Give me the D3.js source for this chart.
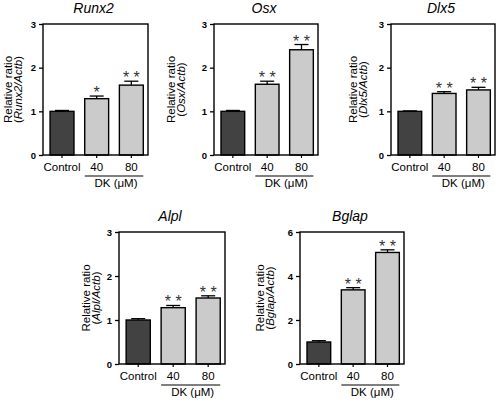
<!DOCTYPE html>
<html>
<head>
<meta charset="utf-8">
<script src="https://cdn.jsdelivr.net/npm/d3@7"></script>
<style>
  html, body { margin: 0; padding: 0; background: #fff; }
  svg { display: block; }
  text { font-family: "Liberation Sans", Arial, sans-serif; fill: #000; }
</style>
</head>
<body>
<script>
// ---- data ----
const categories = ["Control", "40", "80"];
const genes = ["Runx2", "Osx", "Dlx5", "Alpl", "Bglap"];

const runx2Mean = [1.00, 1.29, 1.60];
const runx2Err  = [0.02, 0.06, 0.09];
const runx2Sig  = ["", "*", "**"];

const osxMean = [1.00, 1.62, 2.41];
const osxErr  = [0.02, 0.07, 0.12];
const osxSig  = ["", "**", "**"];

const dlx5Mean = [1.00, 1.41, 1.49];
const dlx5Err  = [0.01, 0.04, 0.06];
const dlx5Sig  = ["", "**", "**"];

const alplMean = [1.00, 1.28, 1.50];
const alplErr  = [0.03, 0.05, 0.05];
const alplSig  = ["", "**", "**"];

const bglapMean = [1.00, 3.37, 5.07];
const bglapErr  = [0.06, 0.10, 0.12];
const bglapSig  = ["", "**", "**"];

const yTicks3 = [0, 1, 2, 3];
const yTicks6 = [0, 2, 4, 6];
const yMax3 = 3;
const yMax6 = 6;
const groupLabel = "DK (\u03BCM)";

// ---- layout (separate from data) ----
const panels = [
  { gene: genes[0], mean: runx2Mean, err: runx2Err, sig: runx2Sig, ticks: yTicks3, max: yMax3, x0: 43,  x1: 148, y0: 24,  y1: 155, lab: [-35, -25] },
  { gene: genes[1], mean: osxMean,   err: osxErr,   sig: osxSig,   ticks: yTicks3, max: yMax3, x0: 214, x1: 318, y0: 24,  y1: 155, lab: [-43, -33] },
  { gene: genes[2], mean: dlx5Mean,  err: dlx5Err,  sig: dlx5Sig,  ticks: yTicks3, max: yMax3, x0: 391, x1: 495, y0: 24,  y1: 155, lab: [-38, -28] },
  { gene: genes[3], mean: alplMean,  err: alplErr,  sig: alplSig,  ticks: yTicks3, max: yMax3, x0: 119, x1: 225, y0: 232, y1: 364, lab: [-33, -23] },
  { gene: genes[4], mean: bglapMean, err: bglapErr, sig: bglapSig, ticks: yTicks6, max: yMax6, x0: 300, x1: 404, y0: 232, y1: 364, lab: [-40, -30] }
];

const W = 500, H = 402;
const svg = d3.select("body").append("svg").attr("width", W).attr("height", H);

panels.forEach(p => {
  const g = svg.append("g");
  const x = d3.scaleBand().domain(categories).range([p.x0, p.x1])
    .paddingInner(0.31).paddingOuter(0.17).align(0.6);
  const y = d3.scaleLinear().domain([0, p.max]).range([p.y1, p.y0]);

  const rows = categories.map((c, i) => ({ c, m: p.mean[i], e: p.err[i], s: p.sig[i], i }));

  // bars
  g.selectAll("rect.bar").data(rows).join("rect")
    .attr("class", "bar")
    .attr("x", d => x(d.c))
    .attr("width", x.bandwidth())
    .attr("y", d => y(d.m))
    .attr("height", d => y(0) - y(d.m))
    .attr("fill", d => d.i === 0 ? "#424242" : "#cbcbcb")
    .attr("stroke", "#000")
    .attr("stroke-width", 1.4);

  // error bars (upward)
  const cx = d => x(d.c) + x.bandwidth() / 2;
  g.selectAll("line.err").data(rows).join("line")
    .attr("class", "err")
    .attr("x1", cx).attr("x2", cx)
    .attr("y1", d => y(d.m)).attr("y2", d => y(d.m + d.e))
    .attr("stroke", "#000").attr("stroke-width", 1.3);
  g.selectAll("line.cap").data(rows).join("line")
    .attr("class", "cap")
    .attr("x1", d => cx(d) - 7).attr("x2", d => cx(d) + 7)
    .attr("y1", d => y(d.m + d.e)).attr("y2", d => y(d.m + d.e))
    .attr("stroke", "#000").attr("stroke-width", 1.3);

  // significance stars
  g.selectAll("text.sig").data(rows.filter(d => d.s)).join("text")
    .attr("class", "sig")
    .attr("x", cx)
    .attr("y", d => y(d.m + d.e) + 2)
    .attr("text-anchor", "middle")
    .attr("font-size", 16)
    .style("fill", "#333")
    .text(d => d.s.split("").join(" "));

  // frame
  g.append("rect")
    .attr("x", p.x0).attr("y", p.y0)
    .attr("width", p.x1 - p.x0).attr("height", p.y1 - p.y0)
    .attr("fill", "none").attr("stroke", "#000").attr("stroke-width", 1.4);

  // y axis
  const ya = g.append("g").attr("transform", `translate(${p.x0},0)`)
    .call(d3.axisLeft(y).tickValues(p.ticks).tickFormat(d3.format("d")).tickSize(4).tickPadding(3));
  ya.select(".domain").remove();
  ya.selectAll("line").attr("stroke", "#000").attr("stroke-width", 1.3);
  ya.selectAll("text").attr("font-size", 9.5).attr("font-weight", "bold")
    .style("font-family", "'Liberation Sans', Arial, sans-serif");

  // x axis
  const xa = g.append("g").attr("transform", `translate(0,${p.y1})`)
    .call(d3.axisBottom(x).tickSize(3).tickPadding(5));
  xa.select(".domain").remove();
  xa.selectAll("line").attr("stroke", "#000").attr("stroke-width", 1.2);
  xa.selectAll("text").attr("font-size", 11.5)
    .style("font-family", "'Liberation Sans', Arial, sans-serif");

  // group underline + label
  const gx0 = x(categories[1]), gx1 = x(categories[2]) + x.bandwidth();
  g.append("line")
    .attr("x1", gx0).attr("x2", gx1)
    .attr("y1", p.y1 + 21).attr("y2", p.y1 + 21)
    .attr("stroke", "#000").attr("stroke-width", 1.2);
  g.append("text")
    .attr("x", (gx0 + gx1) / 2 + 2).attr("y", p.y1 + 32)
    .attr("text-anchor", "middle").attr("font-size", 11.5)
    .text(groupLabel);

  // title
  g.append("text")
    .attr("x", (p.x0 + p.x1) / 2 - 2).attr("y", p.y0 - 11)
    .attr("text-anchor", "middle")
    .attr("font-size", 14).attr("font-style", "italic")
    .text(p.gene);

  // y labels
  const my = (p.y0 + p.y1) / 2;
  g.append("text")
    .attr("transform", `translate(${p.x0 + p.lab[0]},${my}) rotate(-90)`)
    .attr("text-anchor", "middle").attr("dominant-baseline", "central")
    .attr("font-size", 11.5)
    .text("Relative ratio");
  const t2 = g.append("text")
    .attr("transform", `translate(${p.x0 + p.lab[1]},${my}) rotate(-90)`)
    .attr("text-anchor", "middle").attr("dominant-baseline", "central")
    .attr("font-size", 11.5);
  t2.append("tspan").text("(");
  t2.append("tspan").attr("font-style", "italic").text(p.gene + "/Actb");
  t2.append("tspan").text(")");
});
</script>
</body>
</html>
